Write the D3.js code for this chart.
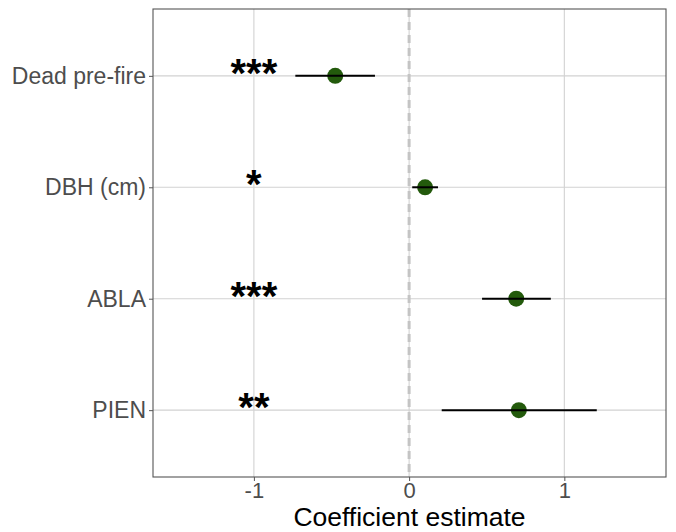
<!DOCTYPE html>
<html>
<head>
<meta charset="utf-8">
<script src="https://cdn.jsdelivr.net/npm/d3@7"></script>
<style>
body { margin: 0; background: #fff; }
text { font-family: "Liberation Sans", Arial, sans-serif; }
</style>
</head>
<body>
<div id="chart"></div>
<script>
// model terms, top to bottom
var terms = ["Dead pre-fire", "DBH (cm)", "ABLA", "PIEN"];
var estimate = [-0.476, 0.103, 0.69, 0.707];
var lower = [-0.733, 0.02, 0.47, 0.21];
var upper = [-0.22, 0.186, 0.913, 1.209];
var stars = ["***", "*", "***", "**"];
var xTicks = [-1, 0, 1];

var W = 676, H = 532;
var m = {top: 9, right: 10, bottom: 55, left: 153};
var pw = W - m.left - m.right, ph = H - m.top - m.bottom;

var svg = d3.select("#chart").append("svg")
    .attr("width", W)
    .attr("height", H);

var g = svg.append("g").attr("transform", "translate(" + m.left + "," + m.top + ")");

var x = d3.scaleLinear().domain([-1.65, 1.655]).range([0, pw]);
// ggplot style discrete scale: 0.6 units padding each end
var y = d3.scalePoint().domain(terms).range([0, ph]).padding(0.6);

// grid
g.selectAll(".vgrid").data(xTicks).enter().append("line")
    .attr("x1", function(d) { return x(d); })
    .attr("x2", function(d) { return x(d); })
    .attr("y1", 0).attr("y2", ph)
    .attr("stroke", "#d2d2d2").attr("stroke-width", 1.1);

g.selectAll(".hgrid").data(terms).enter().append("line")
    .attr("x1", 0).attr("x2", pw)
    .attr("y1", function(d) { return y(d); })
    .attr("y2", function(d) { return y(d); })
    .attr("stroke", "#d2d2d2").attr("stroke-width", 1.1);

// zero line
g.append("line")
    .attr("x1", x(0)).attr("x2", x(0))
    .attr("y1", 0).attr("y2", ph)
    .attr("stroke", "#c4c4c4")
    .attr("stroke-width", 3)
    .attr("stroke-dasharray", "8,5");

var rows = terms.map(function(t, i) {
  return {term: t, est: estimate[i], lo: lower[i], hi: upper[i], sig: stars[i]};
});

// points, then error bars on top
g.selectAll(".pt").data(rows).enter().append("circle")
    .attr("cx", function(d) { return x(d.est); })
    .attr("cy", function(d) { return y(d.term); })
    .attr("r", 8)
    .attr("fill", "#235a0c");

g.selectAll(".ci").data(rows).enter().append("line")
    .attr("x1", function(d) { return x(d.lo); })
    .attr("x2", function(d) { return x(d.hi); })
    .attr("y1", function(d) { return y(d.term); })
    .attr("y2", function(d) { return y(d.term); })
    .attr("stroke", "#000")
    .attr("stroke-width", 2);

// significance stars
g.selectAll(".sig").data(rows).enter().append("text")
    .attr("x", x(-1))
    .attr("y", function(d) { return y(d.term) + 11; })
    .attr("text-anchor", "middle")
    .attr("font-size", "40px")
    .attr("font-weight", "bold")
    .attr("fill", "#000")
    .text(function(d) { return d.sig; });

// border
g.append("rect")
    .attr("width", pw).attr("height", ph)
    .attr("fill", "none")
    .attr("stroke", "#555")
    .attr("stroke-width", 1.1);

// axes
var xAxis = g.append("g")
    .attr("transform", "translate(0," + ph + ")")
    .call(d3.axisBottom(x).tickValues(xTicks).tickSize(4).tickPadding(1).tickFormat(d3.format("d")));
var yAxis = g.append("g")
    .call(d3.axisLeft(y).tickSize(4).tickPadding(3));

[xAxis, yAxis].forEach(function(a) {
  a.select(".domain").remove();
  a.selectAll(".tick line").attr("stroke", "#555");
  a.selectAll(".tick text")
      .attr("fill", "#4d4d4d")
      .style("font-family", "'Liberation Sans', Arial, sans-serif")
      .attr("font-size", "23px");
});
xAxis.selectAll(".tick text")
    .attr("font-size", "22px")
    .text(function(d) { return d < 0 ? "-" + Math.abs(d) : d; });

svg.append("text")
    .attr("x", m.left + pw / 2)
    .attr("y", 526)
    .attr("text-anchor", "middle")
    .attr("font-size", "26.5px")
    .attr("fill", "#000")
    .text("Coefficient estimate");
</script>
</body>
</html>
